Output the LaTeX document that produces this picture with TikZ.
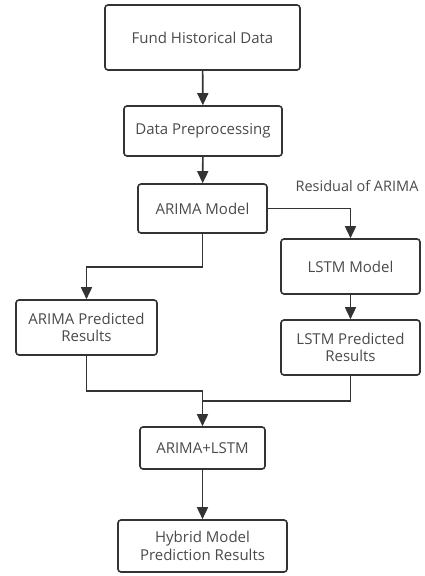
\documentclass[tikz,border=0pt]{standalone}
\usepackage{fontspec}
\setmainfont{Open Sans}
\usetikzlibrary{arrows.meta}

\definecolor{linegray}{HTML}{333333}
\definecolor{textgray}{HTML}{4A4A4A}

\begin{document}
\begin{tikzpicture}[x=1pt,y=-1pt,
    box/.style={draw=linegray,line width=1.6pt,rounded corners=3pt,
      text=textgray,align=center,inner sep=0pt,
      font=\fontsize{15}{17.5}\selectfont},
    link/.style={draw=linegray,line width=1.6pt},
    arrow/.style={link,-{Triangle[length=12pt,width=11pt]}}]
  \useasboundingbox (0,0) rectangle (424,576);
  % boxes
  \node[box,minimum width=195pt,minimum height=65pt] (fund) at (202.5,37.5) {Fund Historical Data};
  \node[box,minimum width=158pt,minimum height=50pt] (prep) at (203,131) {Data Preprocessing};
  \node[box,minimum width=129pt,minimum height=49pt] (arima) at (202.5,208.5) {ARIMA Model};
  \node[box,minimum width=139pt,minimum height=55pt] (lstm) at (350.5,266.5) {LSTM Model};
  \node[box,minimum width=141pt,minimum height=55pt] (arimap) at (86.5,327.5) {ARIMA Predicted\\Results};
  \node[box,minimum width=139pt,minimum height=55pt] (lstmp) at (350.5,347.5) {LSTM Predicted\\Results};
  \node[box,minimum width=125pt,minimum height=42pt] (mix) at (202.5,448) {ARIMA+LSTM};
  \node[box,minimum width=169pt,minimum height=52pt] (hybrid) at (202.5,546) {Hybrid Model\\Prediction Results};
  \node[text=textgray,font=\fontsize{14.5}{17}\selectfont] (resid) at (357,186) {Residual of ARIMA};
  % junctions
  \coordinate (split) at (202.5,267);
  \coordinate (joinl) at (202.5,391);
  \coordinate (joinr) at (202.5,401);
  % connectors
  \draw[arrow] (fund) -- (prep);
  \draw[arrow] (prep) -- (arima);
  \draw[arrow] (arima.east) -| (lstm.north);
  \draw[arrow] (arima.south) |- (split) -| (arimap.north);
  \draw[arrow] (lstm) -- (lstmp);
  \draw[link] (arimap.south) |- (joinl);
  \draw[link] (lstmp.south) |- (joinr);
  \draw[arrow] (joinl) -- (mix.north);
  \draw[arrow] (mix) -- (hybrid);
\end{tikzpicture}
\end{document}
